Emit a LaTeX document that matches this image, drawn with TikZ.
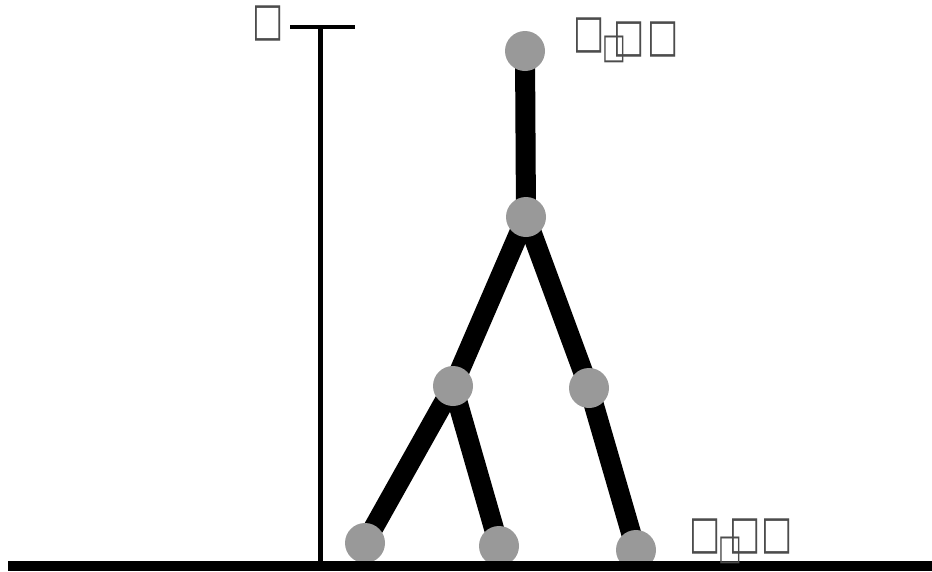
\documentclass[tikz,border=0pt]{standalone}
\usepackage{fontspec}
\newfontfamily\boxfont{DejaVu Sans}
\usetikzlibrary{backgrounds}
\definecolor{nodegray}{RGB}{153,153,153}

\newcommand{\tofu}{\scalebox{1}[1.4]{\symbol{"25A1}}}
\newcommand{\tofusub}{\raisebox{-11pt}{\fontsize{25}{25}\selectfont\tofu}}

\begin{document}
\begin{tikzpicture}[x=1pt,y=-1pt,
    treenode/.style={circle, fill=nodegray, minimum size=40pt, inner sep=0pt},
    branch/.style={line width=20pt},
    tofulabel/.style={font=\boxfont\fontsize{33}{33}\selectfont, text=black!70, inner sep=0pt, anchor=base west}]
        \useasboundingbox (0,0) rectangle (932,571);

        % tree
        \node (Root)[treenode] at (525,51) {};
        \node (Split)[treenode] at (526,217) {};
        \node (Left)[treenode] at (453,386) {};
        \node (Right)[treenode] at (589,388) {};
        \node (LeafA)[treenode] at (365,543) {};
        \node (LeafB)[treenode] at (499,546) {};
        \node (LeafC)[treenode] at (636,550) {};

        \begin{scope}[on background layer]
        \draw [branch] (Root.center) -- (Split.center);
        \draw [branch] (Split.center) -- (Left.center);
        \draw [branch] (Split.center) -- (Right.center);
        \draw [branch] (Left.center) -- (LeafA.center);
        \draw [branch] (Left.center) -- (LeafB.center);
        \draw [branch] (Right.center) -- (LeafC.center);
        \end{scope}

        % time axis and ground
        \coordinate (AxisTop) at (320.5,27);
        \coordinate (AxisBottom) at (320.5,561);
        \coordinate (BarLeft) at (290,27);
        \coordinate (BarRight) at (355,27);
        \coordinate (GroundLeft) at (8,566);
        \coordinate (GroundRight) at (932,566);
        \draw [line width=5pt] (AxisTop) -- (AxisBottom);
        \draw [line width=4pt] (BarLeft) -- (BarRight);
        \draw [line width=10pt] (GroundLeft) -- (GroundRight);

        % labels
        \node (AxisLabel)[tofulabel] at (252,35) {\tofu};
        \node (RootLabel)[tofulabel] at (573,47) {\tofu\kern-2pt\tofusub\kern-13pt\raisebox{-4pt}{\tofu\kern3pt\tofu}};
        \node (LeafLabel)[tofulabel] at (689,548) {\tofu\kern-2pt\tofusub\kern-13pt\tofu\kern1pt\tofu};
    \end{tikzpicture}
\end{document}
